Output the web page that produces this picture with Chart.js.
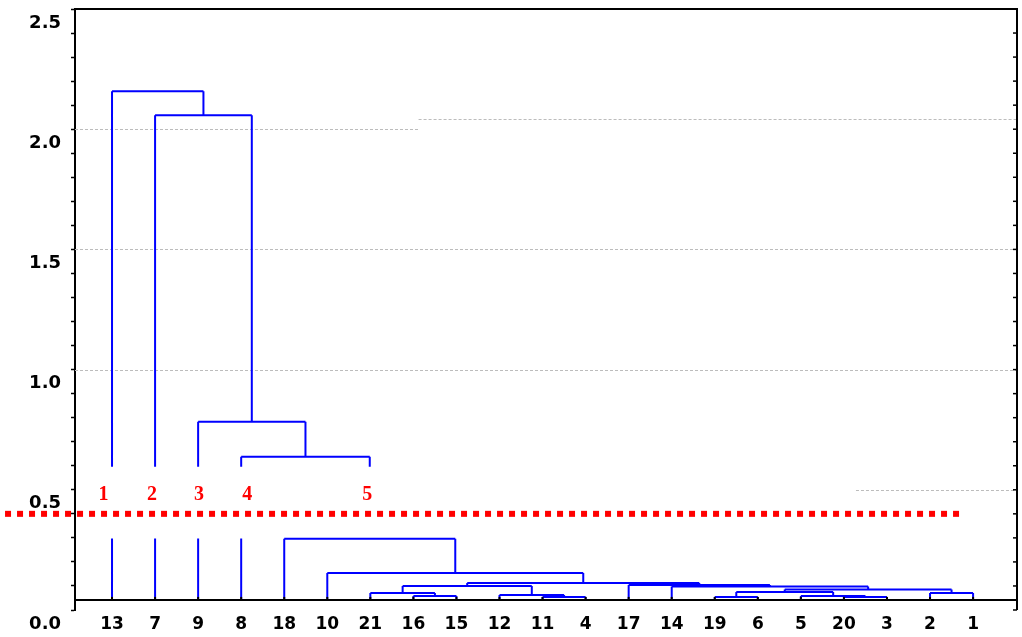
<!DOCTYPE html>
<html>
<head>
<meta charset="utf-8">
<script src="https://cdn.jsdelivr.net/npm/chart.js@4.4.1/dist/chart.umd.min.js"></script>
<style>
  html, body { margin: 0; padding: 0; background: #fff; }
</style>
</head>
<body>
<canvas id="dendro" width="1022" height="637"></canvas>
<script>
// leaves in the order they sit along the bottom axis
const leafLabels = ['13','7','9','8','18','10','21','16','15','12','11','4','17','14','19','6','5','20','3','2','1'];

// joining steps: cluster cN = mergeLeft[N] + mergeRight[N] at mergeHeight[N]
const mergeLeft   = ['16','21','11','12','c1','20','5','19','c7','2','c8','14','17','c4','10','18','8','9','7','13'];
const mergeRight  = ['15','c0','4','c2','c3','3','c5','6','c6','1','c9','c10','c11','c12','c13','c14','c15','c16','c17','c18'];
const mergeHeight = [0.058,0.071,0.054,0.0625,0.100,0.054,0.058,0.054,0.075,0.071,0.085,0.098,0.104,0.1125,0.154,0.296,0.6375,0.783,2.058,2.158];

const leafBase = 0.042;           // height where the leaves start
const breakRange = [0.297, 0.596]; // part of the tree cut out of the picture
const cutLevel = 0.4;             // red cut line
const cutFrom = -1.485, cutTo = 20.7;

// red cluster numbers
const clusterNames = ['1','2','3','4','5'];
const clusterX = [0.8, 1.93, 3.02, 4.14, 6.93];
const clusterY = 0.48;

// dashed grey reference lines
const gridValues = [2.0, 2.042, 1.5, 1.0, 0.5];
const gridFrom   = [0.14, 8.12, 0.14, 0.14, 18.28];
const gridTo     = [8.12, 22.0, 22.0, 22.0, 22.0];

const xMin = 0.14, xMax = 22.02;

// build the tree segments from the joining steps
const pos = {};
leafLabels.forEach((l, i) => { pos[l] = { x: i + 1, y: leafBase }; });
const segs = [];
function vertical(x, y0, y1) {
  if (y1 <= breakRange[0] || y0 >= breakRange[1]) { segs.push([x, y0, x, y1]); return; }
  if (y0 < breakRange[0]) segs.push([x, y0, x, breakRange[0]]);
  if (y1 > breakRange[1]) segs.push([x, breakRange[1], x, y1]);
}
mergeHeight.forEach((h, i) => {
  const a = pos[mergeLeft[i]], b = pos[mergeRight[i]];
  vertical(a.x, a.y, h);
  vertical(b.x, b.y, h);
  segs.push([a.x, h, b.x, h]);
  pos['c' + i] = { x: (a.x + b.x) / 2, y: h };
});
const treePoints = [];
segs.forEach(s => {
  treePoints.push({ x: s[0], y: s[1] }, { x: s[2], y: s[3] }, { x: s[2], y: null });
});

const dendroExtras = {
  id: 'dendroExtras',
  beforeDatasetsDraw(chart) {
    const { ctx, scales: { x, y } } = chart;
    ctx.save();
    ctx.strokeStyle = '#bcbcbc';
    ctx.lineWidth = 1;
    ctx.setLineDash([3, 2]);
    gridValues.forEach((v, i) => {
      const py = Math.round(y.getPixelForValue(v)) + 0.5;
      ctx.beginPath();
      ctx.moveTo(x.getPixelForValue(gridFrom[i]), py);
      ctx.lineTo(x.getPixelForValue(gridTo[i]), py);
      ctx.stroke();
    });
    ctx.restore();
  },
  afterDatasetsDraw(chart) {
    const { ctx, chartArea: a, scales: { x, y } } = chart;
    ctx.save();
    ctx.strokeStyle = '#000';
    ctx.lineWidth = 2;
    // top and right frame
    ctx.beginPath();
    ctx.moveTo(a.left, a.top);
    ctx.lineTo(a.right, a.top);
    ctx.lineTo(a.right, a.bottom);
    ctx.stroke();
    ctx.lineWidth = 1.5;
    for (let k = 0; k <= 25; k++) {
      const py = y.getPixelForValue(k / 10);
      ctx.beginPath();
      ctx.moveTo(a.right, py);
      ctx.lineTo(a.right - 4, py);
      ctx.stroke();
    }
    // baseline with leaf ticks
    const by = y.getPixelForValue(leafBase);
    ctx.lineWidth = 2;
    ctx.beginPath();
    ctx.moveTo(a.left, by);
    ctx.lineTo(a.right, by);
    ctx.stroke();
    leafLabels.forEach((l, i) => {
      const px = x.getPixelForValue(i + 1);
      ctx.beginPath();
      ctx.moveTo(px, by);
      ctx.lineTo(px, by - 3);
      ctx.stroke();
    });
    // cluster numbers
    ctx.fillStyle = '#ff0000';
    ctx.font = 'bold 20px "Liberation Serif"';
    ctx.textAlign = 'center';
    ctx.textBaseline = 'middle';
    clusterNames.forEach((t, i) => {
      ctx.fillText(t, x.getPixelForValue(clusterX[i]), y.getPixelForValue(clusterY));
    });
    ctx.restore();
  }
};

new Chart(document.getElementById('dendro'), {
  type: 'line',
  data: {
    datasets: [
      {
        data: treePoints,
        borderColor: '#0000ff',
        borderWidth: 2,
        pointRadius: 0,
        spanGaps: false,
        tension: 0
      },
      {
        data: [{ x: cutFrom, y: cutLevel }, { x: cutTo, y: cutLevel }],
        borderColor: '#ff0000',
        borderWidth: 6,
        borderDash: [6, 6],
        borderCapStyle: 'butt',
        pointRadius: 0,
        clip: false
      }
    ]
  },
  options: {
    responsive: false,
    animation: false,
    devicePixelRatio: 1,
    layout: { padding: { top: 9, right: 5, left: 0, bottom: 0 } },
    plugins: { legend: { display: false }, tooltip: { enabled: false } },
    scales: {
      x: {
        type: 'linear',
        min: xMin,
        max: xMax,
        afterBuildTicks: s => { s.ticks = leafLabels.map((l, i) => ({ value: i + 1 })); },
        afterFit: s => { s.height = 27; s.paddingLeft = 0; s.paddingRight = 0; },
        border: { display: false },
        grid: { display: false },
        ticks: {
          autoSkip: false,
          maxRotation: 0,
          padding: -4,
          color: '#000',
          font: { family: 'DejaVu Sans', size: 17, weight: 'bold' },
          callback: v => leafLabels[Math.round(v) - 1] || ''
        }
      },
      y: {
        type: 'linear',
        min: 0,
        max: 2.5,
        afterFit: s => { s.width = 75; s.paddingTop = 0; s.paddingBottom = 0; },
        border: { display: true, color: '#000', width: 2 },
        grid: { drawOnChartArea: false, drawTicks: true, tickLength: 4, tickColor: '#000', tickWidth: 1.5 },
        ticks: {
          stepSize: 0.1,
          autoSkip: false,
          padding: 10,
          labelOffset: 14,
          color: '#000',
          font: { family: 'DejaVu Sans', size: 18, weight: 'bold' },
          callback: v => Math.abs(v * 2 - Math.round(v * 2)) < 1e-6 ? v.toFixed(1) : ''
        }
      }
    }
  },
  plugins: [dendroExtras]
});
</script>
</body>
</html>
